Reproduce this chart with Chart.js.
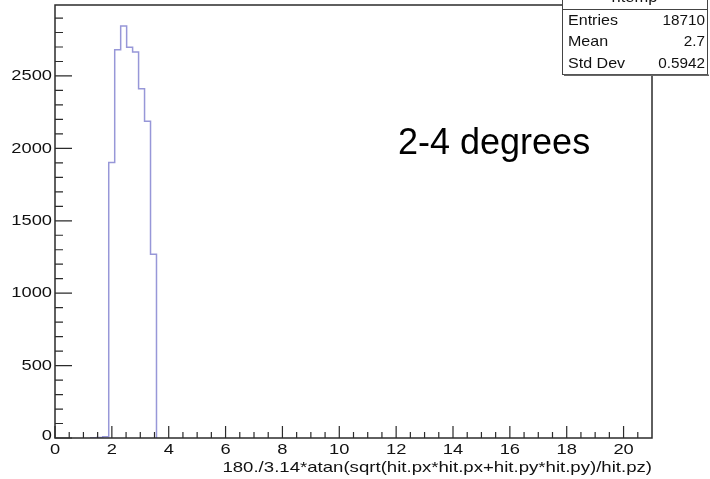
<!DOCTYPE html>
<html>
<head>
<meta charset="utf-8">
<script src="https://cdn.jsdelivr.net/npm/chart.js@4"></script>
<style>
  html, body { margin: 0; padding: 0; background: #fff; }
  canvas { display: block; }
</style>
</head>
<body>
<canvas id="chart-hist" width="710" height="479"></canvas>
<script>
// histogram of polar angle (degrees), 100 bins over 0..21, only the filled ones listed
const binEdges = [1.26, 1.47, 1.68, 1.89, 2.10, 2.31, 2.52, 2.73, 2.94, 3.15, 3.36, 3.57];
const binCounts = [2, 4, 8, 1903, 2681, 2845, 2699, 2665, 2411, 2188, 1269];

const xRange = [0, 21];
const yRange = [0, 2990];
const xMajorTicks = [0, 2, 4, 6, 8, 10, 12, 14, 16, 18, 20];
const xTickLabels = ["0", "2", "4", "6", "8", "10", "12", "14", "16", "18", "20"];
const yMajorTicks = [0, 500, 1000, 1500, 2000, 2500];
const yTickLabels = ["0", "500", "1000", "1500", "2000", "2500"];
const xMinorStep = 0.5;
const yMinorStep = 100;

const xTitle = "180./3.14*atan(sqrt(hit.px*hit.px+hit.py*hit.py)/hit.pz)";
const histName = "htemp";
const statLabels = ["Entries", "Mean", "Std Dev"];
const statValues = ["18710", "2.7", "0.5942"];
const noteText = "2-4 degrees";

const AXIS = "#2b2b2b";
const HIST = "#9797d8";
const FONT = "'Liberation Sans', Arial, sans-serif";

// step outline: start on the baseline, one point per bin, back down to zero
const points = [{ x: binEdges[0], y: 0 }];
binCounts.forEach((c, i) => points.push({ x: binEdges[i], y: c }));
points.push({ x: binEdges[binEdges.length - 1], y: 0 });

// ROOT text looks horizontally stretched, so draw it scaled
function stretchText(ctx, text, x, y, size, sx, align, baseline) {
  ctx.save();
  ctx.translate(x, y);
  ctx.scale(sx, 1);
  ctx.font = `${size}px ${FONT}`;
  ctx.textAlign = align;
  ctx.textBaseline = baseline || "middle";
  ctx.fillText(text, 0, 0);
  ctx.restore();
}

const rootFrame = {
  id: "rootFrame",
  afterDraw(chart) {
    const { ctx, chartArea: a, scales } = chart;
    const xs = scales.x, ys = scales.y;

    ctx.save();
    ctx.strokeStyle = AXIS;
    ctx.fillStyle = "#111";
    ctx.lineWidth = 1.5;
    ctx.strokeRect(a.left, a.top, a.right - a.left, a.bottom - a.top);

    // inward ticks
    ctx.lineWidth = 1.2;
    ctx.beginPath();
    for (let v = xRange[0]; v < xRange[1]; v += xMinorStep) {
      const px = xs.getPixelForValue(v);
      const len = xMajorTicks.includes(v) ? 12 : 6;
      ctx.moveTo(px, a.bottom);
      ctx.lineTo(px, a.bottom - len);
    }
    for (let v = yRange[0]; v < yRange[1]; v += yMinorStep) {
      const py = ys.getPixelForValue(v);
      const len = yMajorTicks.includes(v) ? 17 : 8;
      ctx.moveTo(a.left, py);
      ctx.lineTo(a.left + len, py);
    }
    ctx.stroke();

    // tick labels
    xMajorTicks.forEach((v, i) => {
      stretchText(ctx, xTickLabels[i], xs.getPixelForValue(v), a.bottom + 12, 15, 1.22, "center");
    });
    yMajorTicks.forEach((v, i) => {
      const py = ys.getPixelForValue(v) - (v === 0 ? 2 : 0);
      stretchText(ctx, yTickLabels[i], a.left - 3, py, 15, 1.22, "right");
    });
    stretchText(ctx, xTitle, a.right, a.bottom + 30, 15, 1.24, "right");

    // stats box
    const bx = 562, bw = 145, btop = -16, bbot = 74;
    ctx.fillStyle = "#fff";
    ctx.fillRect(bx, btop, bw, bbot - btop);
    ctx.strokeStyle = "#444";
    ctx.lineWidth = 1;
    ctx.strokeRect(bx + 0.5, btop + 0.5, bw, bbot - btop);
    ctx.beginPath();
    ctx.moveTo(bx, 9.5);
    ctx.lineTo(bx + bw, 9.5);
    ctx.stroke();
    ctx.fillStyle = "#666";
    ctx.fillRect(bx + 2, bbot + 0.5, bw, 1.5);
    ctx.fillStyle = "#111";
    stretchText(ctx, histName, bx + bw / 2, 2, 15, 1.1, "center", "alphabetic");
    statLabels.forEach((lab, i) => {
      const py = 21 + i * 21.3;
      stretchText(ctx, lab, bx + 6, py, 15, 1.07, "left");
      stretchText(ctx, statValues[i], bx + bw - 2, py, 15, 1.02, "right");
    });

    // annotation
    ctx.font = `36px ${FONT}`;
    ctx.textAlign = "left";
    ctx.textBaseline = "middle";
    ctx.fillStyle = "#000";
    ctx.fillText(noteText, 398, 144);
    ctx.restore();
  },
};

new Chart(document.getElementById("chart-hist"), {
  type: "line",
  data: {
    datasets: [{
      label: histName,
      data: points,
      stepped: true,
      borderColor: HIST,
      borderWidth: 1.5,
      pointRadius: 0,
      fill: false,
    }],
  },
  options: {
    responsive: false,
    animation: false,
    layout: { padding: { left: 55, right: 58, top: 5, bottom: 41 } },
    plugins: { legend: { display: false }, tooltip: { enabled: false } },
    scales: {
      x: { type: "linear", min: xRange[0], max: xRange[1], display: false },
      y: { min: yRange[0], max: yRange[1], display: false },
    },
  },
  plugins: [rootFrame],
});
</script>
</body>
</html>
